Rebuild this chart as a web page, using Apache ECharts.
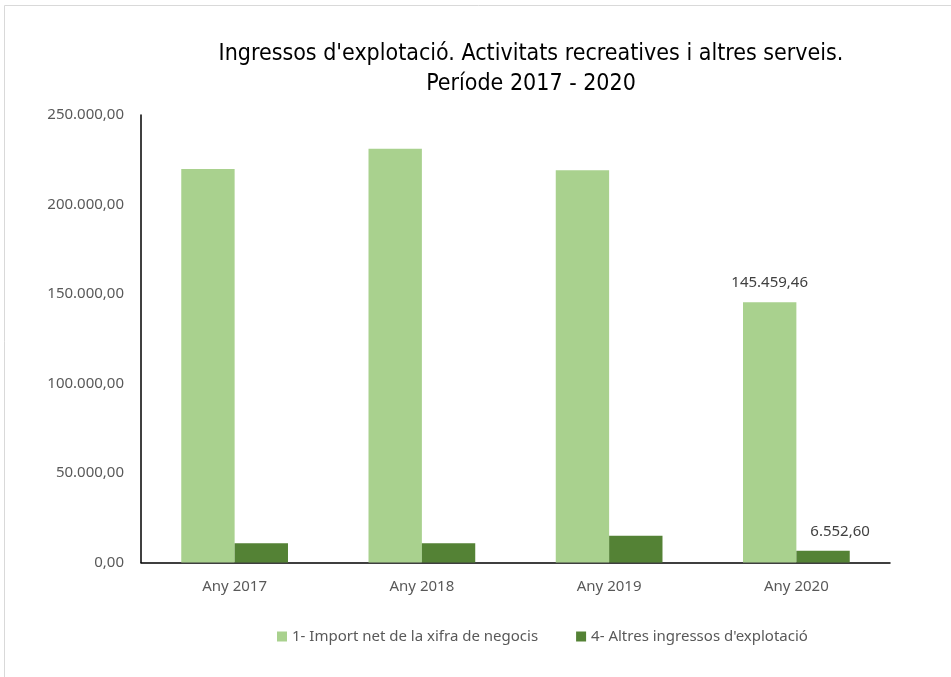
<!DOCTYPE html>
<html><head><meta charset="utf-8">
<script src="https://cdn.jsdelivr.net/npm/echarts@6/dist/echarts.min.js"></script>
<style>html,body{margin:0;padding:0;background:#fff}#c{width:951px;height:677px}</style>
</head><body><div id="c"></div>
<script>
const categories = ['Any 2017', 'Any 2018', 'Any 2019', 'Any 2020'];
const seriesNames = ['1- Import net de la xifra de negocis', "4- Altres ingressos d'explotació"];
const importNet = [219830, 231170, 219110, 145459.46];
const altresIngressos = [10730, 10720, 14970, 6552.60];
const labelIndex = 3;
const yMax = 250000, yStep = 50000;

function fmt(v) {
  const parts = v.toFixed(2).split('.');
  return parts[0].replace(/\B(?=(\d{3})+(?!\d))/g, '.') + ',' + parts[1];
}
const chart = echarts.init(document.getElementById('c'));
const labelFont = 'Noto Sans';
function mkData(arr) {
  return arr.map((v, i) => i === labelIndex ? {value: v, label: {show: true}} : v);
}
chart.setOption({
  animation: false,
  graphic: [{type: 'rect', shape: {x: 4.5, y: 5.5, width: 1000, height: 700}, style: {fill: 'none', stroke: '#d9d9d9', lineWidth: 1}}],
  title: {
    text: "Ingressos d'explotació. Activitats recreatives i altres serveis.\nPeríode 2017 - 2020",
    left: 526, textAlign: 'center', top: 34,
    textStyle: {fontFamily: '"DejaVu Sans Condensed", "Liberation Sans", sans-serif', fontWeight: 'normal', fontSize: 23, color: '#000', lineHeight: 30}
  },
  grid: {left: 141, right: 61, top: 115, bottom: 114.5},
  legend: {
    bottom: 28, left: 272, itemWidth: 10, itemHeight: 10, itemGap: 38,
    icon: 'rect',
    textStyle: {fontFamily: labelFont, fontSize: 15, color: '#595959'},
    data: seriesNames
  },
  xAxis: {
    type: 'category', data: categories,
    axisLine: {lineStyle: {color: '#000', width: 1.5}},
    axisTick: {show: false},
    axisLabel: {fontFamily: labelFont, fontSize: 15, color: '#595959', margin: 17}
  },
  yAxis: {
    type: 'value', min: 0, max: yMax, interval: yStep,
    axisLine: {show: true, lineStyle: {color: '#000', width: 1.5}},
    splitLine: {show: false},
    axisLabel: {fontFamily: labelFont, fontSize: 15, color: '#595959', margin: 17, formatter: v => fmt(v)}
  },
  series: [
    {name: seriesNames[0], type: 'bar', data: mkData(importNet), barGap: '0%', barCategoryGap: '43%',
     itemStyle: {color: '#a9d18e'},
     label: {show: false, position: 'top', distance: 12, fontFamily: labelFont, fontSize: 15, color: '#404040', formatter: p => fmt(p.value)}},
    {name: seriesNames[1], type: 'bar', data: mkData(altresIngressos),
     itemStyle: {color: '#548235'},
     label: {show: false, position: 'top', distance: 12, offset: [17, 0], fontFamily: labelFont, fontSize: 15, color: '#404040', formatter: p => fmt(p.value)}}
  ]
});
</script></body></html>
